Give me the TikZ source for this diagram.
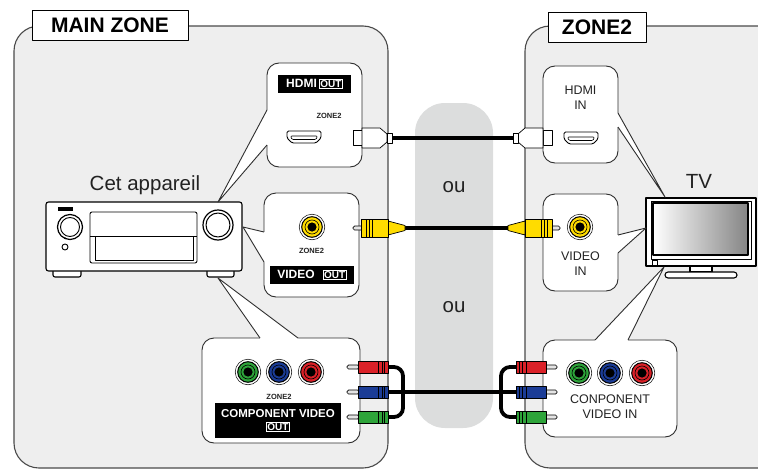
\documentclass[tikz,border=0pt]{standalone}
\usepackage{fontspec}
\setmainfont{Liberation Sans}
\usetikzlibrary{calc}

\definecolor{panel}{HTML}{EEEEEE}
\definecolor{pillar}{HTML}{DCDDDD}
\definecolor{edge}{HTML}{4A4A4A}
\definecolor{bubedge}{HTML}{2E2E2E}
\definecolor{txt}{HTML}{222222}
\definecolor{rcay}{HTML}{FFDC00}
\definecolor{cg}{HTML}{2EA43A}
\definecolor{cb}{HTML}{1B3C96}
\definecolor{cr}{HTML}{DA2128}
\definecolor{pinfill}{HTML}{E4E4E4}
\definecolor{tvgray}{HTML}{858585}

% framed "OUT" tag inside the black label bars
\newcommand\outtag[1]{{\fontsize{10}{12}\selectfont\setlength\fboxsep{0.8pt}\setlength\fboxrule{0.6pt}\fcolorbox{white}{black}{#1}}}

% female RCA jack
\newcommand\rcajack[3]{%
  \draw[fill=white,line width=0.5pt] (#1,#2) circle[radius=12.8pt];
  \draw[fill=#3,line width=1pt] (#1,#2) circle[radius=10.3pt];
  \draw[line width=0.6pt] (#1,#2) circle[radius=7pt];
  \fill (#1,#2) circle[radius=4.6pt];}

% female HDMI port
\newcommand\hdmiport[2]{%
  \begin{scope}[shift={(#1,#2)}]
    \draw[fill=white,line width=0.9pt,rounded corners=1.5pt]
      (-17,-6) -- (17,-6) -- (17,1) -- (12,6) -- (-12,6) -- (-17,1) -- cycle;
    \draw[line width=0.6pt,rounded corners=0.8pt]
      (-13,-1) -- (13,-1) -- (13,0.8) -- (11.5,2.5) -- (-11.5,2.5) -- (-13,0.8) -- cycle;
  \end{scope}}

% HDMI cable plug: x, y of the cable end, direction
\newcommand\hdmiplug[3]{%
  \begin{scope}[shift={(#1,#2)},xscale=#3]
    \draw[plugedge,fill=white] (-39,-7.5) rectangle (-30,7.5);
    \draw[plugedge,fill=white] (-30,-10) -- (-12,-10) -- (-5,-4) -- (-5,4) -- (-12,10) -- (-30,10) -- cycle;
    \draw[plugedge,fill=white] (-5,-5) rectangle (0,5);
  \end{scope}}

% yellow composite plug
\newcommand\rcaplug[3]{%
  \begin{scope}[shift={(#1,#2)},xscale=#3]
    \draw[plugedge,fill=pinfill,rounded corners=1.5pt] (-52,-2) rectangle (-42,2);
    \draw[plugedge,fill=rcay] (-17,-7) -- (0,-2.5) -- (0,2.5) -- (-17,7) -- cycle;
    \draw[plugedge,fill=rcay] (-44,-9) rectangle (-17,9);
    \draw[plugedge] (-39,-9) -- (-39,9) (-36,-9) -- (-36,9) (-33,-9) -- (-33,9);
  \end{scope}}

% component plug
\newcommand\cplug[4]{%
  \begin{scope}[shift={(#1,#2)},xscale=#3]
    \draw[plugedge,fill=pinfill,rounded corners=1.5pt] (-41,-2) rectangle (-29,2);
    \draw[plugedge,fill=#4] (-30,-6) rectangle (0,6);
    \draw[plugedge] (-10,-6) -- (-10,6) (-6,-6) -- (-6,6) (-3.5,-6) -- (-3.5,6);
  \end{scope}}

\begin{document}
\begin{tikzpicture}[x=1pt,y=-1pt,line join=round,
  panelbox/.style={fill=panel,draw=edge,line width=1.1pt,rounded corners=25pt},
  zonetag/.style={draw=black,fill=white,line width=1pt,inner sep=0pt,
    font=\fontsize{21}{24}\selectfont\bfseries},
  bubble/.style={draw=bubedge,fill=white,line width=0.9pt,rounded corners=12pt,inner sep=0pt},
  tagbar/.style={fill=black,text=white,inner sep=0pt,align=center,
    font=\fontsize{12}{14}\selectfont\bfseries},
  tiny/.style={font=\fontsize{7.5}{9}\selectfont\bfseries,inner sep=0pt,text=txt},
  lbl/.style={font=\fontsize{12.5}{15}\selectfont,align=center,inner sep=0pt,text=txt},
  big/.style={font=\fontsize{20.5}{24}\selectfont,inner sep=0pt,text=txt},
  cable/.style={line width=3.8pt,black},
  plugedge/.style={draw=black,line width=0.7pt},
  tail/.style={draw=bubedge,line width=0.9pt},
  dev/.style={draw=black,line width=1.1pt,fill=white}]

\useasboundingbox (0,0) rectangle (758,471);

% zone panels
\draw[panelbox] (14,26) rectangle (388,468);
\draw[panelbox] (762,26) -- (525,26) -- (525,468) -- (762,468);

% "or" pillar
\fill[pillar,rounded corners=30pt] (415,103) rectangle (493,428);
\node[big] (ou1) at (454,187) {ou};
\node[big] (ou2) at (454,307) {ou};

% zone tags
\node[zonetag,minimum width=156pt,minimum height=30pt] (maintag) at (110,25) {MAIN ZONE};
\node[zonetag,minimum width=98pt,minimum height=30pt] (z2tag) at (597,27) {ZONE2};

% receiver
\node[big] (devname) at (145,185) {Cet appareil};
\draw[dev,rounded corners=2pt] (53,266) rectangle (81,277);
\draw[dev,rounded corners=2pt] (207,266) rectangle (234,277);
\draw[dev,rounded corners=2.5pt] (46,202) rectangle (242,271);
\fill (58,207) rectangle (73,211);
\draw[line width=1.2pt] (70,227) circle[radius=12.5pt];
\draw[line width=0.9pt] (70,227) circle[radius=9.5pt];
\draw[line width=1.2pt] (218,225) circle[radius=15pt];
\draw[line width=1pt] (218,225) circle[radius=12pt];
\draw[line width=0.9pt,rounded corners=2pt] (90,212) rectangle (197,263);
\draw[line width=0.9pt] (90,236) -- (197,236);
\draw[line width=0.9pt] (95,236) rectangle (193,260);
\fill (65,238) circle[radius=0.9pt];
\draw[line width=0.9pt] (65,247) circle[radius=3pt];

% television
\node[big] (tvname) at (699,181) {TV};
\draw[dev] (690,265) rectangle (712,272);
\draw[dev,rounded corners=3pt] (665,272) rectangle (737,278);
\draw[black,line width=2pt,fill=white] (646,198) rectangle (756,266);
\draw[line width=0.6pt] (651,201) rectangle (751,259);
\shade[left color=white,right color=tvgray] (653,203) rectangle (748,255);
\draw[line width=1.2pt] (653,203) rectangle (748,255);
\draw[line width=0.5pt] (652,260) rectangle (657,265);

% callout bubbles
\node[bubble,minimum width=95pt,minimum height=104pt] (hdmiout) at (314.5,115) {};
\node[bubble,minimum width=95pt,minimum height=104pt] (vidout) at (311.5,245) {};
\node[bubble,minimum width=158pt,minimum height=105pt] (compout) at (281,390.5) {};
\node[bubble,minimum width=75pt,minimum height=97pt] (hdmiin) at (580.5,114.5) {};
\node[bubble,minimum width=75pt,minimum height=97pt] (vidin) at (580.5,242.5) {};
\node[bubble,minimum width=134pt,minimum height=97pt] (compin) at (610,388.5) {};

% callout tails
\coordinate (ta1) at (218,202); \coordinate (ta2) at (267,110); \coordinate (ta3) at (267,145);
\fill[white] (ta1) -- (ta2) -- ($(ta2)+(2,0)$) -- ($(ta3)+(2,0)$) -- (ta3) -- cycle;
\draw[tail] (ta2) -- (ta1) -- (ta3);

\coordinate (tb1) at (243,227); \coordinate (tb2) at (264,232); \coordinate (tb3) at (264,262);
\fill[white] (tb1) -- (tb2) -- ($(tb2)+(2,0)$) -- ($(tb3)+(2,0)$) -- (tb3) -- cycle;
\draw[tail] (tb2) -- (tb1) -- (tb3);

\coordinate (tc1) at (218,278); \coordinate (tc2) at (260,338); \coordinate (tc3) at (298,338);
\fill[white] (tc1) -- (tc2) -- ($(tc2)+(0,2)$) -- ($(tc3)+(0,2)$) -- (tc3) -- cycle;
\draw[tail] (tc2) -- (tc1) -- (tc3);

\coordinate (td1) at (665,197); \coordinate (td2) at (618,113); \coordinate (td3) at (618,127);
\fill[white] (td1) -- (td2) -- ($(td2)+(-2,0)$) -- ($(td3)+(-2,0)$) -- (td3) -- cycle;
\draw[tail] (td2) -- (td1) -- (td3);

\coordinate (te1) at (646,228); \coordinate (te2) at (618,235); \coordinate (te3) at (618,253);
\fill[white] (te1) -- (te2) -- ($(te2)+(-2,0)$) -- ($(te3)+(-2,0)$) -- (te3) -- cycle;
\draw[tail] (te2) -- (te1) -- (te3);

\coordinate (tf1) at (664,267); \coordinate (tf2) at (595,340); \coordinate (tf3) at (628,340);
\fill[white] (tf1) -- (tf2) -- ($(tf2)+(0,2)$) -- ($(tf3)+(0,2)$) -- (tf3) -- cycle;
\draw[tail] (tf2) -- (tf1) -- (tf3);

% HDMI OUT contents
\node[tagbar,minimum width=73pt,minimum height=18pt] (hdmitag) at (314.5,84) {HDMI\,\outtag{OUT}};
\node[tiny] (hz2) at (329,116) {ZONE2};
\hdmiport{304}{137}

% VIDEO OUT contents
\rcajack{312}{227}{rcay}
\node[tiny] (vz2) at (311.5,250.5) {ZONE2};
\node[tagbar,minimum width=84pt,minimum height=18pt] (vidtag) at (312,275) {VIDEO\hspace{8pt}\outtag{OUT}};

% COMPONENT OUT contents
\rcajack{248}{372}{cg}
\rcajack{279}{372}{cb}
\rcajack{311}{372}{cr}
\node[tiny] (cz2) at (279,396.5) {ZONE2};
\node[tagbar,minimum width=126pt,minimum height=35pt,font=\fontsize{11.5}{14}\selectfont\bfseries]
  (comptag) at (278,420.5) {COMPONENT VIDEO\\[-0.5pt]\outtag{OUT}};

% zone 2 inputs
\node[lbl] (hdmiintxt) at (580.5,97.5) {HDMI\\IN};
\hdmiport{581}{138}
\rcajack{580}{227}{rcay}
\node[lbl] (vidintxt) at (580.5,263.5) {VIDEO\\IN};
\rcajack{579}{373}{cg}
\rcajack{610}{373}{cb}
\rcajack{642}{373}{cr}
\node[lbl] (compintxt) at (610,406.5) {CONPONENT\\VIDEO IN};

% cable ends
\coordinate (hL) at (392,138);  \coordinate (hR) at (513,138);
\coordinate (vL) at (405,228);  \coordinate (vR) at (508,228);
\coordinate (rL) at (388,367);  \coordinate (rR) at (516,367);
\coordinate (bL) at (388,392);  \coordinate (bR) at (516,392);
\coordinate (gL) at (388,417);  \coordinate (gR) at (516,417);

% cables
\draw[cable] (hL) -- (hR);
\draw[cable] (vL) -- (vR);
\draw[cable] (bL) -- (bR);
\draw[cable,rounded corners=9pt] (rL) -- (403,367) -- (403,417) -- (gL);
\draw[cable,rounded corners=9pt] (rR) -- (501,367) -- (501,417) -- (gR);

% plugs
\hdmiplug{392}{138}{1}
\hdmiplug{513}{138}{-1}
\rcaplug{405}{228}{1}
\rcaplug{508}{228}{-1}
\cplug{388}{367}{1}{cr}
\cplug{388}{392}{1}{cb}
\cplug{388}{417}{1}{cg}
\cplug{516}{367}{-1}{cr}
\cplug{516}{392}{-1}{cb}
\cplug{516}{417}{-1}{cg}
\end{tikzpicture}
\end{document}
